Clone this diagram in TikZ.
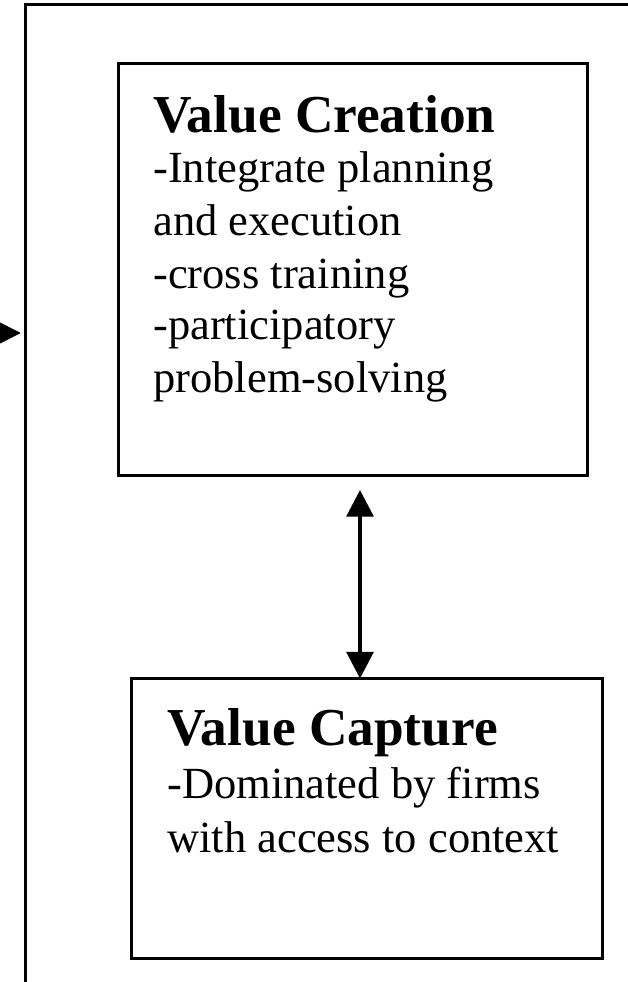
\documentclass[tikz,border=0pt]{standalone}
\usepackage{fontspec}
\setmainfont{Liberation Serif}
\usetikzlibrary{arrows.meta}
\tikzset{
  linew/.style={line width=2pt},
  box/.style={draw, linew, rectangle, inner sep=0pt, outer sep=0pt},
  heading/.style={anchor=base west, inner sep=0pt, font=\bfseries\fontsize{40pt}{46pt}\selectfont},
  body/.style={anchor=base west, inner sep=0pt, font=\fontsize{33.4pt}{39pt}\selectfont},
  dbl/.style={line width=3pt, {Triangle[length=20pt,width=20pt]}-{Triangle[length=20pt,width=20pt]}},
  sgl/.style={line width=3pt, -{Triangle[length=15.75pt,width=15pt]}}
}
\begin{document}
\begin{tikzpicture}[x=0.75pt,y=-0.75pt]
\useasboundingbox (0,0) rectangle (628,982);
\fill[white] (0,0) rectangle (628,982);
\clip (0,0) rectangle (628,982);
% outer frame
\draw[linew] (660,4.7) -- (25.5,4.7) -- (25.5,1000);
% boxes
\node[box, minimum width=351.75pt, minimum height=309pt] (b1) at (353,269.5) {};
\node[box, minimum width=353.25pt, minimum height=210pt] (b2) at (367,818.5) {};
% texts box 1
\node[heading] (h1) at (153,132) {Value Creation};
\node[body] (t11) at (153,182) {-Integrate planning};
\node[body] (t12) at (153,235) {and execution};
\node[body] (t13) at (153,288) {-cross training};
\node[body] (t14) at (153,339) {-participatory};
\node[body] (t15) at (153,392) {problem-solving};
% texts box 2
\node[heading] (h2) at (167,745) {Value Capture};
\node[body] (t21) at (167,798) {-Dominated by firms};
\node[body] (t22) at (167,852) {with access to context};
% double arrow
\coordinate (at) at (360,490);
\draw[dbl] (at) -- (at |- b2.north);
% incoming arrow on the left
\coordinate (lfree) at (-40,333);
\coordinate (ltip) at (21,333);
\draw[sgl] (lfree) -- (ltip);
\end{tikzpicture}
\end{document}
